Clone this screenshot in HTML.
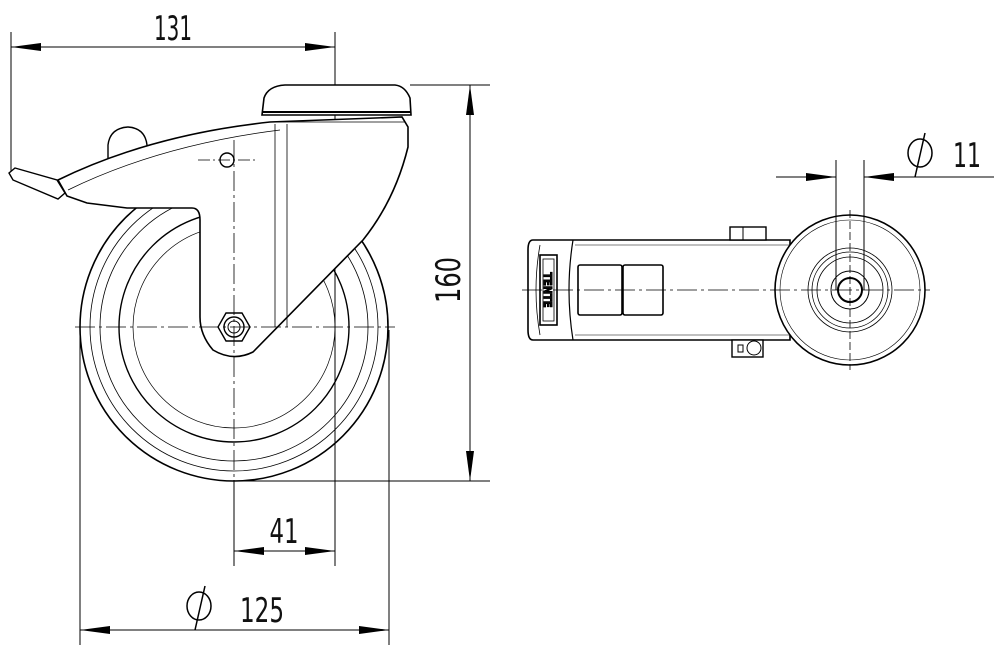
<!DOCTYPE html>
<html><head><meta charset="utf-8"><style>
html,body{margin:0;padding:0;background:#fff;}
svg{display:block;}
text{font-family:"DejaVu Sans Condensed","Liberation Sans",sans-serif;fill:#111;}
</style></head><body>
<svg width="1000" height="655" viewBox="0 0 1000 655" xmlns="http://www.w3.org/2000/svg">
<defs>
<marker id="a" viewBox="0 0 30 10" refX="30" refY="5" markerWidth="30" markerHeight="10" markerUnits="userSpaceOnUse" orient="auto-start-reverse">
<path d="M0,1 L30,5 L0,9 Z" fill="#000"/></marker>
</defs>
<g fill="none" stroke="#000" stroke-width="1">
<line x1="11" y1="32" x2="11" y2="172"/>
<line x1="335" y1="32" x2="335" y2="566"/>
<line x1="11" y1="47" x2="335" y2="47" marker-start="url(#a)" marker-end="url(#a)"/>
<line x1="410" y1="85" x2="490" y2="85"/>
<line x1="240" y1="481" x2="490" y2="481"/>
<line x1="470" y1="85" x2="470" y2="481" marker-start="url(#a)" marker-end="url(#a)"/>
<line x1="234" y1="480" x2="234" y2="566"/>
<line x1="234" y1="551" x2="335" y2="551" marker-start="url(#a)" marker-end="url(#a)"/>
<line x1="80" y1="330" x2="80" y2="645"/>
<line x1="389" y1="330" x2="389" y2="645"/>
<line x1="80" y1="630" x2="389" y2="630" marker-start="url(#a)" marker-end="url(#a)"/>

<circle cx="234" cy="327" r="154" stroke-width="1.6"/>
<circle cx="234" cy="327" r="144" stroke-width="0.8"/>
<circle cx="234" cy="327" r="134" stroke-width="0.8"/>
<circle cx="234" cy="327" r="115" stroke-width="1.4"/>
<circle cx="234" cy="327" r="101" stroke-width="0.7"/>
<path d="M108,160 L108,145 Q110,128 128,127 Q145,128 147,145 L147,160 Z" fill="#fff" stroke-width="1.4"/>
<path d="M58,180 Q150,135 270,122 L402,117 L408,127 L408,147 Q395,200 363,240 L253,352 Q233,362 213,350 Q200,335 200,317 L200,220 Q200,208 192,208 L127,208 L87,203 L67,196 Z" fill="#fff" stroke-width="1.6"/>
<path d="M68,190 Q160,145 280,130" stroke-width="0.8"/>
<line x1="275" y1="124" x2="275" y2="327" stroke-width="0.8"/>
<line x1="287" y1="124" x2="287" y2="327" stroke-width="0.8"/>
<line x1="270" y1="122" x2="405" y2="122" stroke-width="0.8"/>
<path d="M15,168 L57,180 L65,193 L58,199 L13,180 L9,173 Z" fill="#fff" stroke-width="1.4"/>
<path d="M262,115 L264,98 Q268,86 285,85 L395,85 Q405,86 410,98 L411,115 Z" fill="#fff" stroke-width="1.6"/>
<line x1="262" y1="112" x2="411" y2="112" stroke-width="2"/>
<circle cx="227" cy="160" r="7" stroke-width="1.4"/>
<line x1="198" y1="160" x2="258" y2="160" stroke-dasharray="12,3,2,3" stroke-width="0.7"/>
<polygon points="250,327 242,341 226,341 218,327 226,313 242,313" fill="#fff" stroke-width="1.4"/>
<circle cx="234" cy="327" r="10" stroke-width="1.4"/>
<circle cx="234" cy="327" r="6" stroke-width="1"/>
<line x1="75" y1="327" x2="395" y2="327" stroke-dasharray="20,4,3,4" stroke-width="0.8"/>
<line x1="234" y1="140" x2="234" y2="480" stroke-dasharray="20,4,3,4" stroke-width="0.8"/>

<path d="M533,240 L790,240 L790,340 L533,340 Q528,340 528,330 L528,250 Q528,240 533,240 Z" fill="#fff" stroke-width="1.6"/>
<path d="M573,240 Q565,290 573,340" stroke-width="1.2"/>
<path d="M540,245 Q532,290 540,335" stroke-width="0.8"/>
<rect x="540" y="255" width="17" height="70" stroke-width="1.6"/>
<rect x="543" y="259" width="11" height="62" stroke-width="0.8"/>
<text x="548" y="290" font-size="11" font-weight="bold" text-anchor="middle" transform="rotate(90 548 290)" dy="4">TENTE</text>
<rect x="578" y="265" width="44" height="50" rx="2" stroke-width="1.6"/>
<rect x="623" y="265" width="40" height="50" rx="2" stroke-width="1.6"/>
<line x1="575" y1="245" x2="790" y2="245" stroke-width="0.6"/>
<line x1="575" y1="335" x2="790" y2="335" stroke-width="0.6"/>
<rect x="730" y="227" width="36" height="13" stroke-width="1.4" fill="#fff"/>
<line x1="743" y1="227" x2="743" y2="240"/>
<rect x="732" y="340" width="31" height="17" stroke-width="1.4" fill="#fff"/>
<rect x="738" y="345" width="5" height="7"/>
<circle cx="754" cy="348" r="7"/>
<circle cx="850" cy="290" r="75" fill="#fff" stroke-width="1.6"/>
<circle cx="850" cy="290" r="70" stroke-width="0.6"/>
<circle cx="850" cy="290" r="42" stroke-width="0.8"/>
<circle cx="850" cy="290" r="38" stroke-width="0.8"/>
<circle cx="850" cy="290" r="33" stroke-width="0.8"/>
<circle cx="850" cy="290" r="19" stroke-width="1"/>
<circle cx="850" cy="290" r="12" stroke-width="2"/>
<line x1="522" y1="290" x2="930" y2="290" stroke-dasharray="20,4,3,4" stroke-width="0.8"/>
<line x1="850" y1="210" x2="850" y2="370" stroke-dasharray="8,3" stroke-width="0.8"/>
<line x1="836" y1="160" x2="836" y2="290"/>
<line x1="864" y1="160" x2="864" y2="290"/>
<line x1="776" y1="177" x2="836" y2="177" marker-end="url(#a)"/>
<line x1="994" y1="177" x2="864" y2="177" marker-end="url(#a)"/>
</g>
<g font-size="34">
<text x="173" y="40" text-anchor="middle" textLength="38" lengthAdjust="spacingAndGlyphs">131</text>
<text x="284" y="543" text-anchor="middle" textLength="29" lengthAdjust="spacingAndGlyphs">41</text>
<text x="262" y="622" text-anchor="middle" textLength="44" lengthAdjust="spacingAndGlyphs">125</text>
<text x="967" y="167" text-anchor="middle" textLength="28" lengthAdjust="spacingAndGlyphs">11</text>
<text x="0" y="0" text-anchor="middle" textLength="46" lengthAdjust="spacingAndGlyphs" transform="translate(460,280) rotate(-90)">160</text>
</g>
<g fill="none" stroke="#000" stroke-width="1.5">
<ellipse cx="199" cy="606" rx="12" ry="14"/><line x1="195" y1="630" x2="205" y2="586"/>
<ellipse cx="920" cy="153" rx="12" ry="14"/><line x1="915" y1="177" x2="925" y2="133"/>
</g>
</svg>
</body></html>
